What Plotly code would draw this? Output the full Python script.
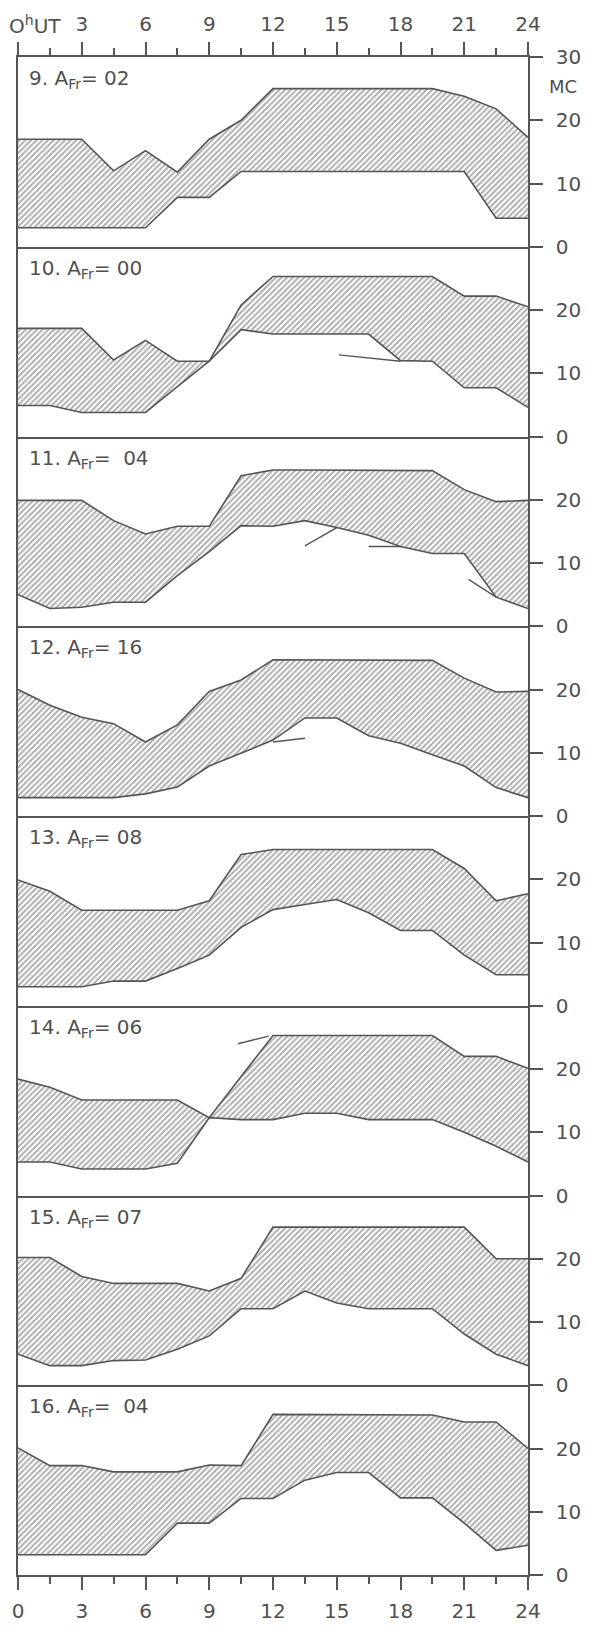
import plotly.graph_objects as go

# ---------------- data ----------------
HOURS = [0, 1.5, 3, 4.5, 6, 7.5, 9, 10.5, 12, 13.5, 15, 16.5, 18, 19.5, 21, 22.5, 24]

PANEL_LABELS = ["9. A<sub>Fr</sub>= 02", "10. A<sub>Fr</sub>= 00", "11. A<sub>Fr</sub>=  04",
                "12. A<sub>Fr</sub>= 16", "13. A<sub>Fr</sub>= 08", "14. A<sub>Fr</sub>= 06",
                "15. A<sub>Fr</sub>= 07", "16. A<sub>Fr</sub>=  04"]

UPPER_9 = [17, 17, 17, 12, 15.2, 11.8, 17, 20, 25, 25, 25, 25, 25, 25, 23.8, 21.8, 17.3]
LOWER_9 = [3, 3, 3, 3, 3, 7.8, 7.8, 11.9, 11.9, 11.9, 11.9, 11.9, 11.9, 11.9, 11.9, 4.5, 4.5]

UPPER_10 = [17.1, 17.1, 17.1, 12.1, 15.2, 11.9, 11.9, 20.8, 25.3, 25.3, 25.3, 25.3, 25.3, 25.3, 22.2, 22.2, 20.5]
LOWER_10 = [4.9, 4.9, 3.8, 3.8, 3.8, 7.9, 11.9, 16.9, 16.2, 16.2, 16.2, 16.2, 12.0, 11.9, 7.7, 7.7, 4.6]

UPPER_11 = [19.9, 19.9, 19.9, 16.7, 14.6, 15.8, 15.8, 23.8, 24.7, 24.7, 24.7, 24.7, 24.7, 24.6, 21.6, 19.7, 19.9]
LOWER_11 = [5.0, 2.8, 3.0, 3.8, 3.8, 8.0, 11.8, 15.9, 15.8, 16.7, 15.6, 14.4, 12.6, 11.5, 11.5, 4.6, 2.8]

UPPER_12 = [20.0, 17.5, 15.6, 14.6, 11.7, 14.4, 19.7, 21.5, 24.7, 24.7, 24.7, 24.7, 24.7, 24.6, 21.8, 19.6, 19.7]
LOWER_12 = [2.9, 2.9, 2.9, 2.9, 3.5, 4.6, 7.9, 10.0, 12.0, 15.5, 15.5, 12.7, 11.5, 9.7, 7.9, 4.5, 2.9]

UPPER_13 = [19.9, 18.1, 15.1, 15.1, 15.1, 15.1, 16.6, 23.9, 24.7, 24.7, 24.7, 24.7, 24.7, 24.7, 21.7, 16.6, 17.7]
LOWER_13 = [3.0, 3.0, 3.0, 3.9, 3.9, 5.9, 8.0, 12.4, 15.2, 16.0, 16.8, 14.7, 11.9, 11.9, 8.0, 4.9, 4.9]

UPPER_14 = [18.4, 17.1, 15.1, 15.1, 15.1, 15.1, 12.3, 18.8, 25.3, 25.3, 25.3, 25.3, 25.3, 25.3, 22.0, 22.0, 20.1]
LOWER_14 = [5.3, 5.3, 4.2, 4.2, 4.2, 5.1, 12.3, 12.0, 12.0, 13.0, 13.0, 12.0, 12.0, 12.0, 10.0, 7.8, 5.3]

UPPER_15 = [20.2, 20.2, 17.2, 16.1, 16.1, 16.1, 14.9, 16.9, 25.0, 25.0, 25.0, 25.0, 25.0, 25.0, 25.0, 20.0, 20.0]
LOWER_15 = [4.9, 3.1, 3.1, 3.9, 4.0, 5.7, 7.8, 12.1, 12.1, 14.9, 13.0, 12.1, 12.1, 12.1, 8.1, 4.9, 3.1]

UPPER_16 = [20.1, 17.3, 17.3, 16.3, 16.3, 16.3, 17.4, 17.3, 25.4, 25.4, 25.4, 25.4, 25.4, 25.3, 24.2, 24.2, 20.0]
LOWER_16 = [3.2, 3.2, 3.2, 3.2, 3.2, 8.2, 8.2, 12.1, 12.1, 15.0, 16.2, 16.2, 12.2, 12.2, 8.2, 3.9, 4.7]

UPPERS = [UPPER_9, UPPER_10, UPPER_11, UPPER_12, UPPER_13, UPPER_14, UPPER_15, UPPER_16]
LOWERS = [LOWER_9, LOWER_10, LOWER_11, LOWER_12, LOWER_13, LOWER_14, LOWER_15, LOWER_16]

# stray pen strokes drawn on the original: (panel index, x list, y list)
STROKE_PANELS = [1, 2, 2, 2, 3, 5]
STROKE_X = [[15.1, 18.0], [13.5, 15.0], [16.5, 18.0], [21.2, 22.5], [12.0, 13.5], [10.35, 11.8]]
STROKE_Y = [[12.9, 11.9], [12.7, 15.6], [12.6, 12.6], [7.4, 4.6], [11.7, 12.3], [24.0, 25.2]]

X_TICKS = [0, 3, 6, 9, 12, 15, 18, 21, 24]
X_TOP_TEXT = ["", "3", "6", "9", "12", "15", "18", "21", "24"]
X_BOTTOM_TEXT = ["0", "3", "6", "9", "12", "15", "18", "21", "24"]
X_MINOR = [1.5, 4.5, 7.5, 10.5, 13.5, 16.5, 19.5, 22.5]
Y_TICKS = [0, 10, 20]
Y_TICKS_TOP = [0, 10, 20, 30]

# ---------------- style ----------------
INK = "#555555"
TXT = "#505050"
FONT = "DejaVu Sans"
N = len(UPPERS)

fig = go.Figure()
for i in range(N):
    ax = "" if i == 0 else str(i + 1)
    fig.add_trace(go.Scatter(x=HOURS, y=LOWERS[i], mode="lines",
                             line=dict(color=INK, width=1.6),
                             xaxis="x" + ax, yaxis="y" + ax, showlegend=False, hoverinfo="skip"))
    fig.add_trace(go.Scatter(x=HOURS, y=UPPERS[i], mode="lines",
                             line=dict(color=INK, width=1.6),
                             fill="tonexty", fillcolor="rgba(0,0,0,0)",
                             fillpattern=dict(shape="/", fgcolor="#5e5e5e", bgcolor="white",
                                              size=4, solidity=0.5),
                             xaxis="x" + ax, yaxis="y" + ax, showlegend=False, hoverinfo="skip"))

for p, sx, sy in zip(STROKE_PANELS, STROKE_X, STROKE_Y):
    ax = "" if p == 0 else str(p + 1)
    fig.add_trace(go.Scatter(x=sx, y=sy, mode="lines", line=dict(color=INK, width=1.4),
                             xaxis="x" + ax, yaxis="y" + ax, showlegend=False, hoverinfo="skip"))

layout = dict(
    width=599, height=1635,
    margin=dict(l=14, r=71, t=43, b=45),
    paper_bgcolor="white", plot_bgcolor="white",
    font=dict(family=FONT, color=TXT, size=20),
)

TICKFONT = dict(size=20, family=FONT, color=TXT)
for i in range(N):
    ax = "" if i == 0 else str(i + 1)
    top = 1 - i / N
    bot = 1 - (i + 1) / N
    xa = dict(range=[0, 24], domain=[0, 1], anchor="y" + ax, showgrid=False, zeroline=False,
              showline=True, mirror=False, linecolor=INK, linewidth=1.6, fixedrange=True,
              side="bottom")
    if i == 0:
        xa.update(side="top", mirror=True, ticks="outside", tickvals=X_TICKS, ticktext=X_TOP_TEXT,
                  ticklen=13, tickwidth=1.6, tickcolor=INK, showticklabels=True,
                  tickfont=TICKFONT, ticklabelstandoff=3,
                  minor=dict(tickvals=X_MINOR, ticks="outside", ticklen=7, tickwidth=1.6, tickcolor=INK))
    elif i == N - 1:
        xa.update(side="bottom", ticks="outside", tickvals=X_TICKS, ticktext=X_BOTTOM_TEXT,
                  ticklen=13, tickwidth=1.6, tickcolor=INK, showticklabels=True,
                  tickfont=TICKFONT, ticklabelstandoff=4,
                  minor=dict(tickvals=X_MINOR, ticks="outside", ticklen=7, tickwidth=1.6, tickcolor=INK))
    else:
        xa.update(ticks="", showticklabels=False)
    ya = dict(range=[0, 30], domain=[bot, top], anchor="x" + ax, side="right",
              showgrid=False, zeroline=False, showline=True, mirror=True,
              linecolor=INK, linewidth=1.6, ticks="outside", ticklen=13, tickwidth=1.6,
              tickcolor=INK, tickvals=Y_TICKS_TOP if i == 0 else Y_TICKS,
              ticklabelstandoff=9, tickfont=TICKFONT, fixedrange=True)
    layout["xaxis" + ax] = xa
    layout["yaxis" + ax] = ya

annotations = []
for i, lab in enumerate(PANEL_LABELS):
    ax = "" if i == 0 else str(i + 1)
    annotations.append(dict(text=lab, xref="x" + ax + " domain", yref="y" + ax + " domain",
                            x=0, y=1, xanchor="left", yanchor="top", xshift=9, yshift=-7,
                            showarrow=False, font=dict(size=20, family=FONT, color=TXT)))
annotations.append(dict(text="O<sup>h</sup>UT", xref="x domain", yref="paper", x=0, y=1,
                        xanchor="left", yanchor="bottom", xshift=-11, yshift=17, showarrow=False,
                        font=dict(size=20, family=FONT, color=TXT)))
annotations.append(dict(text="MC", xref="x domain", yref="y", x=1, y=30, xanchor="left",
                        yanchor="middle", xshift=19, yshift=-29, showarrow=False,
                        font=dict(size=18, family=FONT, color=TXT)))
layout["annotations"] = annotations

fig.update_layout(**layout)
fig.write_html("out.html")
